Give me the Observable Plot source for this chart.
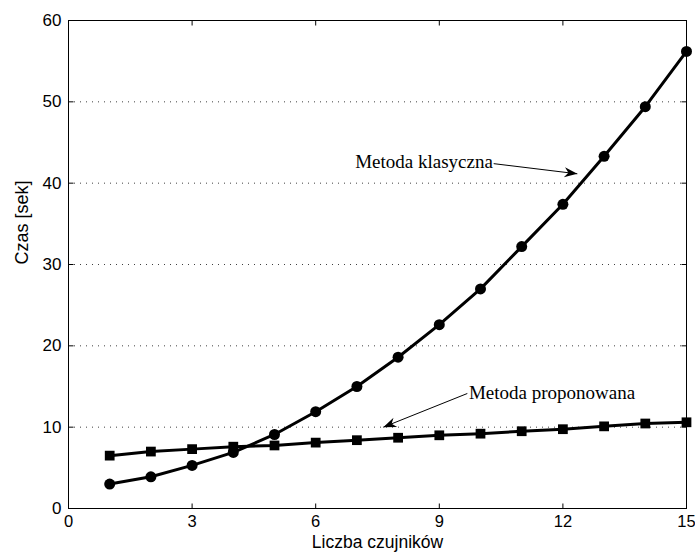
<!DOCTYPE html>
<html>
<head>
<meta charset="utf-8">
<script src="https://cdn.jsdelivr.net/npm/d3@7"></script>
<script src="https://cdn.jsdelivr.net/npm/@observablehq/plot@0.6"></script>
<style>
  body { margin: 0; background: #fff; }
  #chart svg { display: block; }
</style>
</head>
<body>
<div id="chart"></div>
<script>
const sensors = [1,2,3,4,5,6,7,8,9,10,11,12,13,14,15];
const classical = [3.0,3.9,5.3,6.9,9.1,11.9,15.0,18.6,22.6,27.0,32.2,37.4,43.3,49.4,56.2];
const proposed = [6.5,7.0,7.3,7.6,7.75,8.1,8.4,8.7,9.0,9.2,9.5,9.75,10.1,10.45,10.6];
const xTicks = [0,3,6,9,12,15];
const yTicks = [0,10,20,30,40,50,60];
const gridLines = [10,20,30,40,50];
const annotations = [
  {label: "Metoda klasyczna", tx: 10.3, ty: 42.6, x1: 10.32, y1: 42.4, x2: 12.35, y2: 41.15, anchor: "end"},
  {label: "Metoda proponowana", tx: 9.72, ty: 14.2, x1: 9.68, y1: 14.14, x2: 7.64, y2: 10.0, anchor: "start"}
];

const W = 695, H = 554, ML = 68, MR = 9, MT = 20, MB = 46;
const xDomain = [0, 15], yDomain = [0, 60];
const pxX = (W - ML - MR) / (xDomain[1] - xDomain[0]);
const pxY = (H - MT - MB) / (yDomain[1] - yDomain[0]);

const dataC = sensors.map((s, i) => ({x: s, y: classical[i]}));
const dataP = sensors.map((s, i) => ({x: s, y: proposed[i]}));
const heads = annotations.map(a => ({
  x: a.x2, y: a.y2,
  angle: Math.atan2((a.x2 - a.x1) * pxX, (a.y2 - a.y1) * pxY) * 180 / Math.PI
}));

// arrowhead symbol: tip at origin, pointing up (towards -y)
const arrowHead = {draw(ctx) {
  ctx.moveTo(0, 0);
  ctx.lineTo(5, 13);
  ctx.lineTo(0, 9);
  ctx.lineTo(-5, 13);
  ctx.closePath();
}};
const tickMark = {draw(ctx) { ctx.moveTo(0, 0); ctx.lineTo(0, -5); }};

const bottomTicks = xTicks.map(t => ({x: t, y: yDomain[0], r: 0}));
const topTicks = xTicks.map(t => ({x: t, y: yDomain[1], r: 180}));
const leftTicks = yTicks.map(t => ({x: xDomain[0], y: t, r: 90}));
const rightTicks = yTicks.map(t => ({x: xDomain[1], y: t, r: -90}));
const allTicks = [...bottomTicks, ...topTicks, ...leftTicks, ...rightTicks];

const serif = "'Liberation Serif', 'DejaVu Serif', serif";

const chart = Plot.plot({
  width: W,
  height: H,
  marginLeft: ML,
  marginRight: MR,
  marginTop: MT,
  marginBottom: MB,
  style: {fontFamily: "'Liberation Sans', Arial, sans-serif", fontSize: "17px", color: "#000", background: "#fff", overflow: "visible"},
  x: {domain: xDomain},
  y: {domain: yDomain},
  marks: [
    Plot.ruleY(gridLines, {stroke: "#000", strokeOpacity: 0.75, strokeDasharray: "1,5", strokeWidth: 1}),
    Plot.frame({stroke: "#000", strokeWidth: 1}),
    Plot.dot(allTicks, {x: "x", y: "y", rotate: "r", symbol: tickMark, stroke: "#000", strokeWidth: 1, fill: "none", r: 5}),
    Plot.axisX({ticks: xTicks, tickSize: 0, tickPadding: 7, tickFormat: d => d, label: null, fontSize: 16.5}),
    Plot.axisY({ticks: yTicks, tickSize: 0, tickPadding: 7, tickFormat: d => d, label: null, fontSize: 17}),
    Plot.line(dataC, {x: "x", y: "y", stroke: "#000", strokeWidth: 3}),
    Plot.dot(dataC, {x: "x", y: "y", r: 5.5, fill: "#000", symbol: "circle"}),
    Plot.line(dataP, {x: "x", y: "y", stroke: "#000", strokeWidth: 3}),
    Plot.dot(dataP, {x: "x", y: "y", r: 5.5, fill: "#000", symbol: "square"}),
    Plot.link(annotations, {x1: "x1", y1: "y1", x2: "x2", y2: "y2", stroke: "#000", strokeWidth: 1}),
    Plot.dot(heads, {x: "x", y: "y", rotate: "angle", symbol: arrowHead, fill: "#000", stroke: "none", r: 6}),
    Plot.text(annotations.filter(d => d.anchor === "end"), {x: "tx", y: "ty", text: "label", textAnchor: "end", fontFamily: serif, fontSize: 19, letterSpacing: 1.3}),
    Plot.text(annotations.filter(d => d.anchor === "start"), {x: "tx", y: "ty", text: "label", textAnchor: "start", fontFamily: serif, fontSize: 19, letterSpacing: 1.3}),
    Plot.text(["Liczba czujników"], {frameAnchor: "bottom", dy: 39, text: d => d, fontSize: 17.5}),
    Plot.text(["Czas [sek]"], {frameAnchor: "left", dx: -46, rotate: -90, text: d => d, fontSize: 18})
  ]
});
document.getElementById("chart").appendChild(chart);
</script>
</body>
</html>
